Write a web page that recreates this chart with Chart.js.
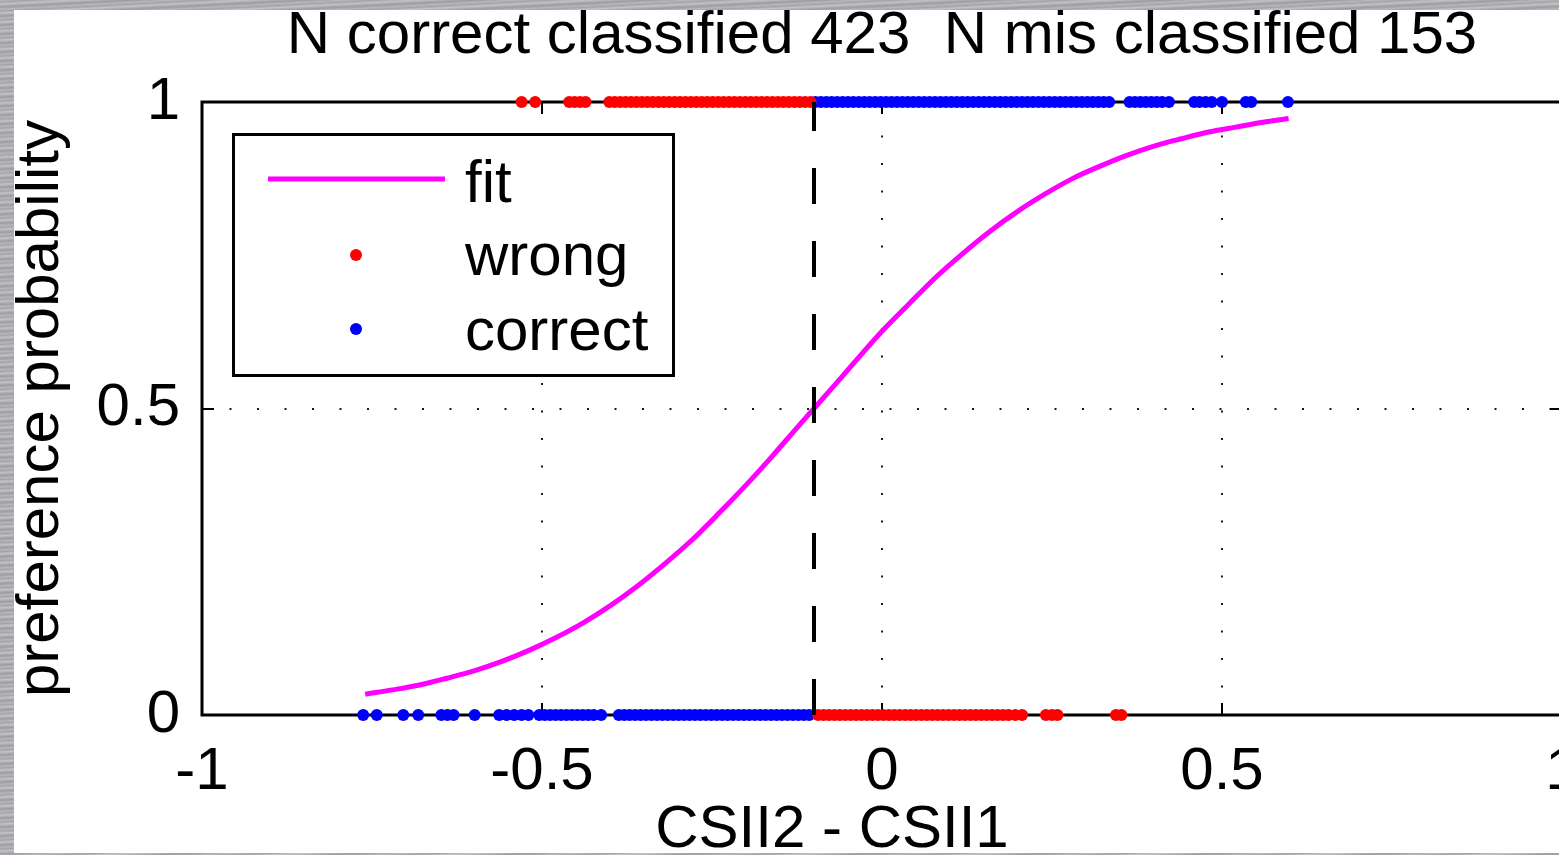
<!DOCTYPE html>
<html><head><meta charset="utf-8">
<script src="https://cdn.jsdelivr.net/npm/chart.js@4.4.1/dist/chart.umd.min.js"></script>
<style>
html,body{margin:0;padding:0;width:1559px;height:855px;overflow:hidden;}
body{background:#acacb1 repeating-linear-gradient(177deg,#b9b9be 0px,#a3a3a8 2px,#c3c3c7 4px,#9c9ca1 7px,#b2b2b7 9px);}
#paper{position:absolute;left:14px;top:10px;width:1545px;height:843px;background:#fff;}
#wrap{position:absolute;left:0;top:0;width:1600px;height:880px;}
</style></head><body>
<div id="paper"></div>
<div id="wrap"><canvas id="c"></canvas></div>
<script>
// ---- data ----
const titleText = 'N correct classified 423  N mis classified 153';
const xLabel = 'CSII2 - CSII1';
const yLabel = 'preference probability';
const thresholdX = -0.1;

// misclassified points (red), at probability 1 and 0
const wrongTopX = [-0.530,-0.510,-0.460,-0.452,-0.444,-0.436,-0.401,-0.393,-0.385,-0.377,-0.369,-0.361,-0.353,-0.345,-0.337,-0.329,-0.321,-0.313,-0.305,-0.297,-0.289,-0.281,-0.273,-0.265,-0.257,-0.249,-0.241,-0.233,-0.225,-0.217,-0.209,-0.201,-0.193,-0.185,-0.177,-0.169,-0.161,-0.153,-0.145,-0.137,-0.129,-0.121,-0.113,-0.105];
const wrongBottomX = [-0.094,-0.086,-0.078,-0.070,-0.062,-0.054,-0.046,-0.038,-0.030,-0.022,-0.014,-0.006,0.002,0.010,0.018,0.026,0.034,0.042,0.050,0.058,0.066,0.074,0.082,0.090,0.098,0.106,0.114,0.122,0.130,0.138,0.146,0.154,0.162,0.170,0.178,0.186,0.196,0.206,0.241,0.250,0.258,0.344,0.352];

// correctly classified points (blue)
const correctTopX = [-0.098,-0.090,-0.082,-0.074,-0.066,-0.058,-0.050,-0.042,-0.034,-0.026,-0.018,-0.010,-0.002,0.006,0.014,0.022,0.030,0.038,0.046,0.054,0.062,0.070,0.078,0.086,0.094,0.102,0.110,0.118,0.126,0.134,0.142,0.150,0.158,0.166,0.174,0.182,0.190,0.198,0.206,0.214,0.222,0.230,0.238,0.246,0.254,0.262,0.270,0.278,0.286,0.294,0.302,0.310,0.318,0.326,0.334,0.364,0.372,0.380,0.388,0.396,0.404,0.412,0.422,0.459,0.467,0.476,0.485,0.500,0.535,0.543,0.597];
const correctBottomX = [-0.763,-0.743,-0.704,-0.682,-0.648,-0.639,-0.630,-0.599,-0.563,-0.552,-0.541,-0.530,-0.520,-0.504,-0.496,-0.488,-0.480,-0.472,-0.464,-0.456,-0.448,-0.440,-0.432,-0.424,-0.413,-0.387,-0.379,-0.371,-0.363,-0.355,-0.347,-0.339,-0.331,-0.323,-0.315,-0.307,-0.299,-0.291,-0.283,-0.275,-0.267,-0.259,-0.251,-0.243,-0.235,-0.227,-0.219,-0.211,-0.203,-0.195,-0.187,-0.179,-0.171,-0.163,-0.155,-0.147,-0.139,-0.131,-0.123,-0.115,-0.107];

// fitted curve
const fitX = [-0.76,-0.72,-0.68,-0.64,-0.60,-0.56,-0.52,-0.48,-0.44,-0.40,-0.36,-0.32,-0.28,-0.24,-0.20,-0.16,-0.12,-0.08,-0.04,0.00,0.04,0.08,0.12,0.16,0.20,0.24,0.28,0.32,0.36,0.40,0.44,0.48,0.52,0.56,0.598];
const fitP = [0.034,0.041,0.049,0.060,0.072,0.087,0.105,0.126,0.150,0.178,0.210,0.246,0.285,0.329,0.375,0.424,0.475,0.525,0.576,0.626,0.671,0.715,0.754,0.790,0.822,0.850,0.875,0.895,0.913,0.928,0.940,0.951,0.959,0.967,0.973];

const xMin = -1, xMax = 1, xStep = 0.5;
const yMin = 0, yMax = 1, yStep = 0.5;

// ---- build ----
const FONT = "'Liberation Sans', Arial, Helvetica, sans-serif";
const FS = 60;
const pts = (xs, y) => xs.map(x => ({x, y}));
const wrongPts = pts(wrongTopX, 1).concat(pts(wrongBottomX, 0));
const correctPts = pts(correctTopX, 1).concat(pts(correctBottomX, 0));
const fitPts = fitX.map((x, i) => ({x, y: fitP[i]}));
const fmt = v => String(Math.round(v * 100) / 100);

const framePlugin = {
  id: 'frame',
  beforeDatasetsDraw(chart) {
    const {ctx, chartArea: a, scales: {x, y}} = chart;
    ctx.save();
    // dotted grid
    ctx.strokeStyle = '#1a1a1a'; ctx.lineWidth = 2; ctx.setLineDash([2, 25.5]);
    x.ticks.forEach(t => {
      if (t.value === xMin || t.value === xMax) return;
      const px = Math.round(x.getPixelForValue(t.value));
      ctx.beginPath(); ctx.moveTo(px, a.bottom); ctx.lineTo(px, a.top); ctx.stroke();
    });
    y.ticks.forEach(t => {
      if (t.value === yMin || t.value === yMax) return;
      const py = Math.round(y.getPixelForValue(t.value));
      ctx.beginPath(); ctx.moveTo(a.left, py); ctx.lineTo(a.right, py); ctx.stroke();
    });
    ctx.setLineDash([]);
    // inward ticks
    ctx.strokeStyle = '#000'; ctx.lineWidth = 2;
    const tl = 12;
    x.ticks.forEach(t => {
      const px = Math.round(x.getPixelForValue(t.value));
      ctx.beginPath(); ctx.moveTo(px, a.bottom); ctx.lineTo(px, a.bottom - tl); ctx.stroke();
      ctx.beginPath(); ctx.moveTo(px, a.top); ctx.lineTo(px, a.top + tl); ctx.stroke();
    });
    y.ticks.forEach(t => {
      const py = Math.round(y.getPixelForValue(t.value));
      ctx.beginPath(); ctx.moveTo(a.left, py); ctx.lineTo(a.left + tl, py); ctx.stroke();
      ctx.beginPath(); ctx.moveTo(a.right, py); ctx.lineTo(a.right - tl, py); ctx.stroke();
    });
    // axes box
    ctx.lineWidth = 3;
    ctx.strokeRect(a.left, a.top, a.right - a.left, a.bottom - a.top);
    ctx.restore();
  },
  afterDatasetsDraw(chart) {
    const {ctx} = chart;
    const ds = chart.data.datasets;
    const fit = ds.find(d => d.label === 'fit');
    const wrong = ds.find(d => d.label === 'wrong');
    const correct = ds.find(d => d.label === 'correct');
    ctx.save();
    const bx = 232, by = 133, bw = 443, bh = 244;
    ctx.fillStyle = '#fff';
    ctx.fillRect(bx, by, bw, bh);
    ctx.lineWidth = 3; ctx.strokeStyle = '#000';
    ctx.strokeRect(bx + 1.5, by + 1.5, bw - 3, bh - 3);
    // fit sample
    ctx.strokeStyle = fit.borderColor; ctx.lineWidth = fit.borderWidth;
    ctx.beginPath(); ctx.moveTo(268, 179); ctx.lineTo(445, 179); ctx.stroke();
    // dots
    ctx.fillStyle = wrong.backgroundColor;
    ctx.beginPath(); ctx.arc(356, 255, 6, 0, Math.PI * 2); ctx.fill();
    ctx.fillStyle = correct.backgroundColor;
    ctx.beginPath(); ctx.arc(356, 329, 6, 0, Math.PI * 2); ctx.fill();
    // labels
    ctx.fillStyle = '#000';
    ctx.font = FS + 'px ' + FONT;
    ctx.textBaseline = 'alphabetic'; ctx.textAlign = 'left';
    ctx.fillText(fit.label, 465, 202);
    ctx.fillText(wrong.label, 465, 275);
    ctx.fillText(correct.label, 465, 350);
    ctx.restore();
  }
};

new Chart(document.getElementById('c'), {
  type: 'scatter',
  data: {
    datasets: [
      {label: 'threshold', data: [{x: thresholdX, y: 0}, {x: thresholdX, y: 1}], showLine: true,
       borderColor: '#000', borderWidth: 4, borderDash: [36, 37], pointRadius: 0, order: 0},
      {label: 'wrong', data: wrongPts, backgroundColor: '#ff0000', borderColor: '#ff0000',
       pointRadius: 6, pointBorderWidth: 0, borderWidth: 0, clip: false, order: 1},
      {label: 'correct', data: correctPts, backgroundColor: '#0000ff', borderColor: '#0000ff',
       pointRadius: 6, pointBorderWidth: 0, borderWidth: 0, clip: false, order: 2},
      {label: 'fit', data: fitPts, showLine: true, borderColor: '#ff00ff', backgroundColor: '#ff00ff',
       borderWidth: 5, pointRadius: 0, cubicInterpolationMode: 'monotone', order: 3}
    ]
  },
  options: {
    responsive: true,
    maintainAspectRatio: false,
    animation: false,
    events: [],
    layout: {padding: {left: 0, top: 0, right: 38, bottom: 0}},
    plugins: {
      legend: {display: false},
      tooltip: {enabled: false},
      title: {display: true, text: titleText, color: '#000', fullSize: false,
        font: {family: FONT, size: FS, weight: 'normal', lineHeight: 1.2},
        padding: {top: 0, bottom: 30}}
    },
    scales: {
      x: {
        type: 'linear', min: xMin, max: xMax,
        grid: {display: false}, border: {display: false},
        ticks: {stepSize: xStep, color: '#000', font: {family: FONT, size: FS}, padding: 13,
          maxRotation: 0, autoSkip: false, callback: v => fmt(v)},
        title: {display: true, text: xLabel + '      ', color: '#000',
          font: {family: FONT, size: FS, lineHeight: 1.2}, padding: {top: 0, bottom: 14}},
        afterFit: s => { s.height = 165; s.paddingLeft = 0; s.paddingRight = 0; }
      },
      y: {
        type: 'linear', min: yMin, max: yMax,
        grid: {display: false}, border: {display: false},
        ticks: {stepSize: yStep, color: '#000', font: {family: FONT, size: FS}, padding: 14,
          callback: v => fmt(v)},
        title: {display: true, text: yLabel, color: '#000',
          font: {family: FONT, size: FS, lineHeight: 1.2}, padding: {top: 5, bottom: 0}},
        afterFit: s => { s.width = 202; s.paddingTop = 0; s.paddingBottom = 0; }
      }
    }
  },
  plugins: [framePlugin]
});
</script>
</body></html>
